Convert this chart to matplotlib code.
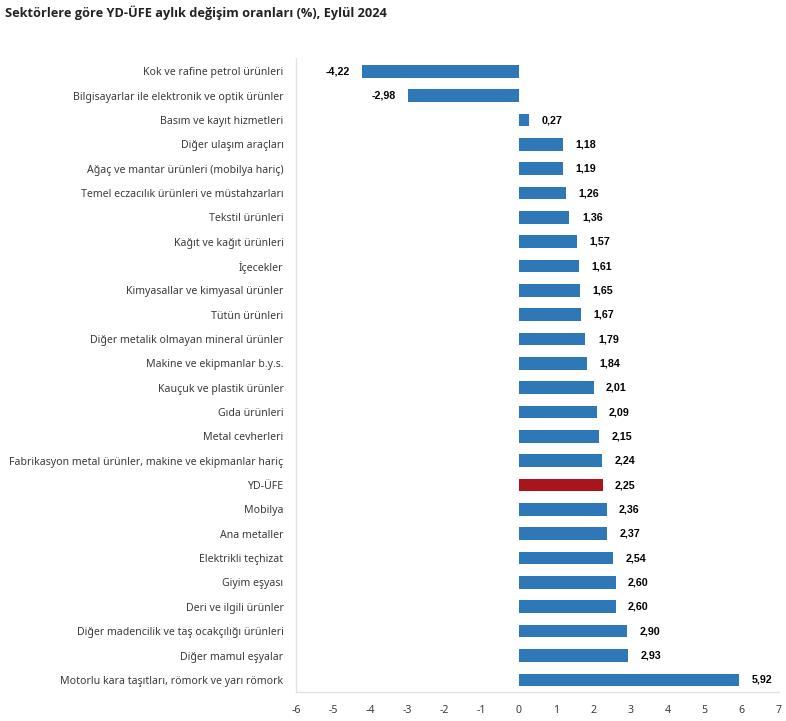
import matplotlib.pyplot as plt
import numpy as np

categories = [
    "Kok ve rafine petrol ürünleri",
    "Bilgisayarlar ile elektronik ve optik ürünler",
    "Basım ve kayıt hizmetleri",
    "Diğer ulaşım araçları",
    "Ağaç ve mantar ürünleri (mobilya hariç)",
    "Temel eczacılık ürünleri ve müstahzarları",
    "Tekstil ürünleri",
    "Kağıt ve kağıt ürünleri",
    "İçecekler",
    "Kimyasallar ve kimyasal ürünler",
    "Tütün ürünleri",
    "Diğer metalik olmayan mineral ürünler",
    "Makine ve ekipmanlar b.y.s.",
    "Kauçuk ve plastik ürünler",
    "Gıda ürünleri",
    "Metal cevherleri",
    "Fabrikasyon metal ürünler, makine ve ekipmanlar hariç",
    "YD-ÜFE",
    "Mobilya",
    "Ana metaller",
    "Elektrikli teçhizat",
    "Giyim eşyası",
    "Deri ve ilgili ürünler",
    "Diğer madencilik ve taş ocakçılığı ürünleri",
    "Diğer mamul eşyalar",
    "Motorlu kara taşıtları, römork ve yarı römork",
]
values = [
    -4.22, -2.98, 0.27, 1.18, 1.19, 1.26, 1.36, 1.57, 1.61, 1.65, 1.67,
    1.79, 1.84, 2.01, 2.09, 2.15, 2.24, 2.25, 2.36, 2.37, 2.54, 2.60,
    2.60, 2.90, 2.93, 5.92,
]
highlight = "YD-ÜFE"
x_ticks = list(range(-6, 8))

BLUE = "#2E78B7"
RED = "#A8151C"

plt.rcParams["font.family"] = ["Noto Sans", "DejaVu Sans"]

fig = plt.figure(figsize=(7.86, 7.21), dpi=100)
ax = fig.add_axes([0.3766, 0.0402, 0.6145, 0.8794])

y = np.arange(len(categories))
colors = [RED if c == highlight else BLUE for c in categories]
ax.barh(y, values, height=0.52, color=colors)

ax.set_ylim(len(categories) - 0.5, -0.55)
ax.set_xlim(-6, 7)
ax.set_yticks(y)
ax.set_yticklabels(categories, fontsize=7.6, color="#3a3a3a")
ax.set_xticks(x_ticks)
ax.set_xticklabels([str(t) for t in x_ticks], fontsize=7.6, color="#3a3a3a")
ax.tick_params(axis="both", length=0)
ax.tick_params(axis="y", pad=9)
ax.tick_params(axis="x", pad=9)

for side in ["top", "right"]:
    ax.spines[side].set_visible(False)
for side in ["left", "bottom"]:
    ax.spines[side].set_color("#e3e3e3")
    ax.spines[side].set_linewidth(1.0)

for yi, v in zip(y, values):
    label = f"{v:.2f}".replace(".", ",")
    if v >= 0:
        ax.annotate(label, (v, yi), xytext=(9, 0), textcoords="offset points",
                    ha="left", va="center", fontsize=7.7, fontweight="bold",
                    family=["Liberation Sans", "DejaVu Sans"])
    else:
        ax.annotate(label, (v, yi), xytext=(-9, 0), textcoords="offset points",
                    ha="right", va="center", fontsize=7.7, fontweight="bold",
                    family=["Liberation Sans", "DejaVu Sans"])

fig.text(0.006, 0.993, "Sektörlere göre YD-ÜFE aylık değişim oranları (%), Eylül 2024",
         ha="left", va="top", fontsize=9.2, fontweight="bold", color="#222222",
         family=["Open Sans", "DejaVu Sans"])

fig.savefig("out.png", dpi=100)
